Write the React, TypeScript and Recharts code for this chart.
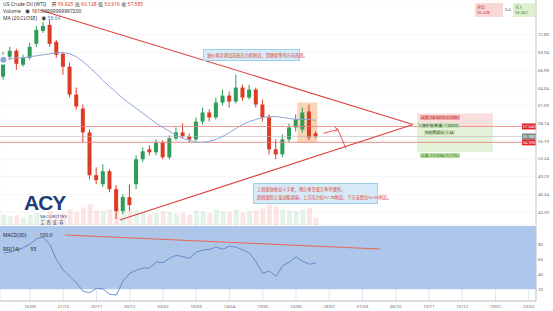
import React from 'react';
import {
  ComposedChart, Bar, Line, XAxis, YAxis, CartesianGrid,
  ReferenceLine, ReferenceArea, Cell,
} from 'recharts';

// ---------- data ----------
const open = [65.93,69.24,70.24,67.92,69.08,71.40,73.55,74.55,71.73,69.74,67.59,62.95,60.63,56.65,49.53,48.03,50.19,47.20,43.56,45.88,48.03,52.18,53.83,53.34,54.99,52.51,55.66,56.65,55.99,55.49,58.47,59.97,59.14,61.62,62.78,61.79,64.11,62.45,63.78,61.29,59.14,53.83,53.00,55.49,57.48,57.15,60.13,56.49];
const high = [70.07,70.90,70.57,69.58,71.56,74.38,75.04,75.38,72.06,70.07,68.25,64.11,61.29,57.15,50.85,51.35,50.52,47.87,46.37,48.03,52.84,54.17,54.50,55.49,55.33,56.15,57.48,58.14,56.49,59.14,60.79,60.46,62.45,63.78,63.45,66.26,64.60,64.60,64.11,62.12,59.63,55.49,56.32,58.14,59.63,60.79,61.29,56.82];
const low = [65.43,68.75,67.09,67.59,68.75,70.90,73.22,70.90,69.08,66.26,62.45,60.46,54.99,48.86,48.03,47.54,46.71,42.24,43.06,43.56,47.20,51.68,52.84,52.84,52.18,52.18,55.33,55.66,54.99,55.16,57.98,58.47,58.81,61.12,60.79,61.46,61.95,62.12,60.79,58.47,53.00,52.18,52.51,54.99,56.82,56.65,55.33,55.66];
const close = [69.24,70.24,68.08,69.08,70.90,73.72,74.38,71.40,69.58,67.59,62.95,60.96,56.65,49.53,48.70,50.19,47.20,43.56,45.88,44.56,52.18,53.50,53.34,54.99,52.51,55.66,56.65,55.99,55.49,58.47,59.97,59.14,61.62,62.78,61.79,64.11,62.45,63.78,61.29,59.14,53.83,53.00,55.49,57.48,58.81,59.97,55.82,55.99];
const ma20 = [68.75,68.92,69.08,69.08,69.24,69.41,69.58,69.74,69.91,69.91,69.74,69.24,68.42,67.42,66.43,65.27,64.27,63.28,62.28,61.46,60.63,59.80,58.97,58.14,57.48,56.82,56.15,55.66,55.33,54.99,54.99,55.16,55.49,55.99,56.65,57.31,57.98,58.47,58.81,59.14,59.30,59.30,59.14,58.97,58.81,58.81,58.81,58.64];
const volume = [30,25,28,22,30,35,28,40,32,35,45,38,50,60,42,40,45,55,48,40,42,38,30,35,40,38,33,36,30,42,40,35,45,40,38,44,36,40,42,48,60,55,45,42,40,45,50,20];
const rsi = [68,69,72,75,80,87,89,79,59,45,37,28,17,15,21,20,13,12,31,41,45,48,48,56,55,61,65,63,61,69,72,73,76,73,77,76,72,68,56,41,44,37,51,56,63,57,53,55];

const dateLabels = ['16/09','21/10','25/11','30/12','03/02','10/03','14/04','19/05','23/06','28/07','01/09','06/10','10/11','15/12','19/01','23/02'];
const dateTickWeeks = [4,9,14,19,24,29,34,39,44,49,54,59,64,69,74,79];
const priceTicks = [72.89,69.94,66.99,64.04,61.09,58.14,55.19,52.24,49.29,46.34,43.39];
const rsiTicks = [80,60,40,20];

const upperTrend = [{ x: 5.5, y: 77.03 }, { x: 61.6, y: 57.97 }];
const lowerTrend = [{ x: 17.5, y: 42.06 }, { x: 61.6, y: 57.97 }];
const arrowPath = [
  [{ x: 48.1, y: 56.49 }, { x: 50.3, y: 57.15 }],
  [{ x: 50.3, y: 57.15 }, { x: 49.8, y: 57.55 }],
  [{ x: 50.3, y: 57.15 }, { x: 49.9, y: 56.7 }],
  [{ x: 50.3, y: 57.15 }, { x: 51.5, y: 53.99 }],
];
const levelHigh = 57.64;
const levelMid = 55.98;
const levelLow = 54.99;
const rsiTrend = [{ x: 9.3, y: 92 }, { x: 56.6, y: 73.3 }];

const X_DOMAIN = [-0.51, 80.09];
const RED = '#dd3b25';
const GREEN = '#2e9d58';

const rows = open.map((o, i) => ({
  i, o, h: high[i], l: low[i], c: close[i],
  range: [low[i], high[i]],
  ma: ma20[i], vol: volume[i], rsi: rsi[i],
}));

const Candle = (props: any) => {
  const { x, y, width, height, payload } = props;
  if (!payload || x == null || y == null) return null;
  const top0 = Math.min(y, y + height);
  const h0 = Math.abs(height);
  const { o, h, l, c } = payload;
  const span = h - l || 1;
  const py = (v: number) => top0 + ((h - v) / span) * h0;
  const cx = x + width / 2;
  const color = c >= o ? GREEN : RED;
  const bt = py(Math.max(o, c));
  const bb = py(Math.min(o, c));
  return (
    <g>
      <line x1={cx} x2={cx} y1={top0} y2={top0 + h0} stroke={color} strokeWidth={1} />
      <rect x={cx - 2} y={bt} width={4} height={Math.max(bb - bt, 1)} fill={color} />
    </g>
  );
};

const PriceTag = ({ viewBox, text, color }: any) => {
  if (!viewBox) return null;
  const xr = viewBox.x + viewBox.width;
  const y = viewBox.y;
  return (
    <g>
      <rect x={xr - 14} y={y - 3} width={14} height={6} fill={color} />
      <text x={xr - 7} y={y + 1.6} fontSize={4} fill="#fff" textAnchor="middle">{text}</text>
    </g>
  );
};

const RightTick = (props: any) => {
  const { x, y, payload, digits } = props;
  const v = payload?.value;
  if (v == null) return null;
  return (
    <text x={x - 2} y={y + 1.5} fontSize={4.3} fill="#666" textAnchor="start">
      {digits ? Number(v).toFixed(digits) : v}
    </text>
  );
};

const BottomTick = (props: any) => {
  const { x, y, payload } = props;
  const idx = dateTickWeeks.indexOf(payload?.value);
  return (
    <text x={x} y={y + 6.5} fontSize={4.3} fill="#666" textAnchor="middle">
      {dateLabels[idx] ?? ''}
    </text>
  );
};

const font = '"Noto Sans", "Noto Sans CJK SC", sans-serif';
const tiny: React.CSSProperties = { position: 'absolute', fontSize: 5, lineHeight: '6px', whiteSpace: 'nowrap' };

export default function App() {
  return (
    <div style={{ position: 'absolute', left: 0, top: 0, width: 553, height: 311, background: '#fff', fontFamily: font, overflow: 'hidden' }}>
      <div style={{ position: 'absolute', left: 0, top: 0 }}>
        <ComposedChart width={553} height={226} data={rows} margin={{ top: 0, right: 0, bottom: 0, left: 0 }}>
          <CartesianGrid stroke="#f0f0f0" strokeWidth={0.6} />
          <XAxis type="number" dataKey="i" domain={X_DOMAIN} ticks={dateTickWeeks} interval={0} allowDataOverflow tick={false} tickLine={false} axisLine={false} height={1} />
          <XAxis xAxisId="v" type="number" dataKey="i" domain={X_DOMAIN} allowDataOverflow hide />
          <YAxis orientation="right" width={17} domain={[41.24, 78.69]} ticks={priceTicks} interval={0} allowDataOverflow
            tick={<RightTick digits={2} />} tickLine={false} tickSize={0} tickMargin={4} axisLine={{ stroke: '#c8c8c8' }} />
          <YAxis yAxisId="vol" hide domain={[0, 650]} />
          <Bar xAxisId="v" yAxisId="vol" dataKey="vol" barSize={5} isAnimationActive={false}>
            {rows.map((r) => (
              <Cell key={r.i} fill={r.c >= r.o ? 'rgba(46,157,88,0.13)' : 'rgba(221,59,37,0.13)'} />
            ))}
          </Bar>
          <ReferenceArea x1={62.2} x2={73.6} y1={levelHigh} y2={59.8} fill="#f6d0d0" fillOpacity={0.7} stroke="none" />
          <ReferenceArea x1={62.2} x2={73.6} y1={53.4} y2={levelHigh} fill="#dcefd0" fillOpacity={0.8} stroke="none" />
          <ReferenceArea x1={44.2} x2={47.2} y1={54.99} y2={61.62} fill="#f7c9a2" fillOpacity={0.8} stroke="none" />
          <ReferenceLine y={levelHigh} stroke="#ee7b7b" strokeWidth={0.8}
            label={(p: any) => <PriceTag viewBox={p.viewBox} text="57.640" color="#e0252f" />} />
          <ReferenceLine y={levelMid} stroke="#b5b5b5" strokeWidth={0.6}
            label={(p: any) => <PriceTag viewBox={p.viewBox} text="55.980" color="#7c8c8c" />} />
          <ReferenceLine y={levelLow} stroke="#ee7b7b" strokeWidth={0.8}
            label={(p: any) => <PriceTag viewBox={p.viewBox} text="54.990" color="#e0252f" />} />
          <ReferenceLine segment={upperTrend} stroke="#d9423e" strokeWidth={1.1} />
          <ReferenceLine segment={lowerTrend} stroke="#d9423e" strokeWidth={1.1} />
          {arrowPath.map((seg, k) => (
            <ReferenceLine key={k} segment={seg} stroke="#e0443a" strokeWidth={0.9} />
          ))}
          <Line dataKey="ma" stroke="#8ea6d8" strokeWidth={1} dot={false} isAnimationActive={false} />
          <Bar dataKey="range" barSize={4} shape={<Candle />} isAnimationActive={false} />
        </ComposedChart>
      </div>

      <div style={{ position: 'absolute', left: 0, top: 226 }}>
        <ComposedChart width={553} height={85} data={rows} margin={{ top: 0, right: 0, bottom: 0, left: 0 }}>
          <XAxis type="number" dataKey="i" domain={X_DOMAIN} ticks={dateTickWeeks} interval={0} allowDataOverflow
            tick={<BottomTick />} tickLine={false} tickSize={0} tickMargin={0} height={10}
            axisLine={{ stroke: '#c8c8c8' }} />
          <YAxis orientation="right" width={17} domain={[4, 104]} ticks={rsiTicks} interval={0} allowDataOverflow
            tick={<RightTick />} tickLine={false} tickSize={0} tickMargin={4} axisLine={{ stroke: '#c8c8c8' }} />
          <ReferenceArea y1={20} y2={104} fill="#aec6ea" fillOpacity={1} stroke="none" />
          <CartesianGrid stroke="#c4d5ee" strokeWidth={0.6} />
          <ReferenceLine segment={rsiTrend} stroke="#e8664f" strokeWidth={1} />
          <Line dataKey="rsi" stroke="#5a86c2" strokeWidth={0.9} dot={false} isAnimationActive={false} />
        </ComposedChart>
      </div>

      {/* header */}
      <div style={{ ...tiny, left: 3, top: 1, color: '#333' }}>
        US Crude Oil (WTI) <span style={{ marginLeft: 4 }}>开</span> <span style={{ color: RED }}>59.925</span>{' '}
        高 <span style={{ color: RED }}>60.128</span> 低 <span style={{ color: RED }}>53.916</span> 收 <span style={{ color: RED }}>57.585</span>
      </div>
      <div style={{ ...tiny, left: 3, top: 8, color: '#333' }}>Volume <span style={{ marginLeft: 3 }}>◉</span> 161.09999999997200</div>
      <div style={{ ...tiny, left: 3, top: 15, color: '#333' }}>MA (20,CLOSE) <span style={{ marginLeft: 3 }}>◉</span> <span style={{ color: '#5a7fc0' }}>58.64</span></div>

      {/* top right buttons */}
      <div style={{ ...tiny, left: 475, top: 3, width: 28, height: 14, background: '#f8d7d7', color: '#c33', fontSize: 4, lineHeight: '5px', paddingLeft: 2, boxSizing: 'border-box', paddingTop: 2 }}>卖出<br />56.028</div>
      <div style={{ ...tiny, left: 505, top: 7, color: '#555', fontSize: 4 }}>3.4</div>
      <div style={{ ...tiny, left: 513, top: 3, width: 22, height: 14, background: '#dff0d0', color: '#3a7d3a', fontSize: 4, lineHeight: '5px', paddingLeft: 2, boxSizing: 'border-box', paddingTop: 2 }}>买入<br />56.062</div>

      {/* annotations */}
      <div style={{ ...tiny, left: 203, top: 49, width: 97, height: 12, background: '#d6ebf7', border: '0.5px solid #9fcfe8', color: '#e0352b', fontSize: 4.2, lineHeight: '12px', paddingLeft: 3, boxSizing: 'border-box' }}>
        油价再次测试前高压力区附近，需继续等待方向选择。
      </div>
      <div style={{ ...tiny, left: 253, top: 183, width: 125, height: 21, background: '#d6ebf7', border: '0.5px solid #9fcfe8', color: '#e0352b', fontSize: 4.2, lineHeight: '8px', paddingLeft: 3, paddingTop: 2, boxSizing: 'border-box' }}>
        上周原油收出十字星，预示多空双方争夺激烈。<br />
        周线级别上涨动能减弱，上方压力位57.78附近，下方支撑位55.00附近。
      </div>

      {/* risk reward labels */}
      <div style={{ ...tiny, left: 420, top: 115, background: '#f3a9a9', color: '#a11', fontSize: 3.8, lineHeight: '5px', padding: '0 1px' }}>止损: 58.9073 (2.20%)</div>
      <div style={{ ...tiny, left: 417, top: 122.5, background: '#c8e6b4', color: '#333', fontSize: 3.8, lineHeight: '5px', padding: '0 1px' }}>入场价格/数量: 1.00(20)</div>
      <div style={{ ...tiny, left: 424, top: 129.5, background: '#c8e6b4', color: '#333', fontSize: 3.8, lineHeight: '5px', padding: '0 1px' }}>风险回报比: 1.34</div>
      <div style={{ ...tiny, left: 420, top: 153, background: '#b9e09d', color: '#2a6a2a', fontSize: 3.8, lineHeight: '5px', padding: '0 1px' }}>止盈: 53.0584 (5.77%)</div>

      {/* logo */}
      <div style={{ position: 'absolute', left: 24, top: 194, color: '#1e3c78', fontSize: 21, fontWeight: 900, lineHeight: '18px', height: 18, letterSpacing: -1, fontFamily: '"Liberation Sans", Arial, sans-serif' }}>ACY</div>
      <div style={{ ...tiny, left: 40, top: 214, color: '#1e3c78', fontSize: 4.3, lineHeight: '5px', letterSpacing: 0.4 }}>SECURITIES</div>
      <div style={{ ...tiny, left: 40, top: 220, color: '#1e3c78', fontSize: 4.3, lineHeight: '5px', letterSpacing: 2 }}>艾西证券</div>

      {/* lower panel legend */}
      <div style={{ ...tiny, left: 3, top: 232, color: '#223' }}>MACD(30) <span style={{ marginLeft: 12 }}>100.0</span></div>
      <div style={{ ...tiny, left: 3, top: 246, color: '#223' }}>RSI(14) <span style={{ marginLeft: 10 }}>55</span></div>
    </div>
  );
}
